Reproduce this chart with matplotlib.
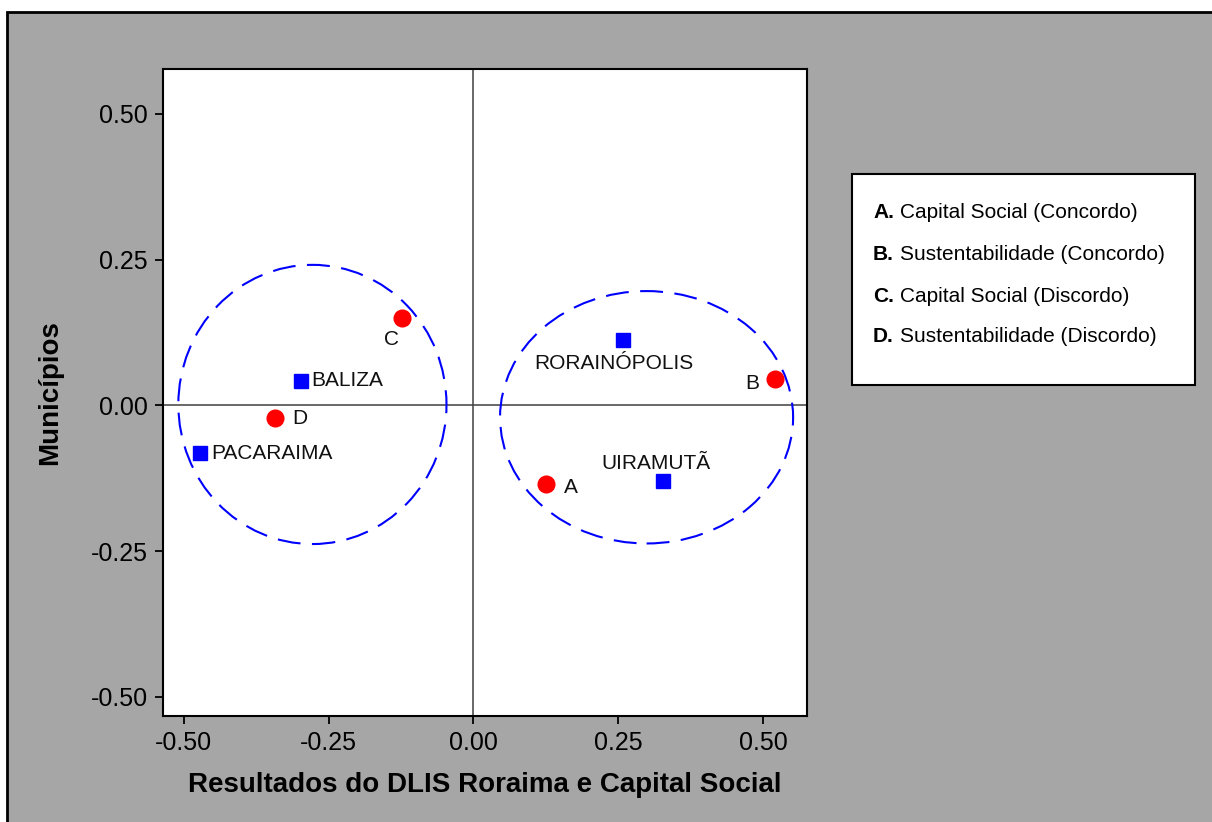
import matplotlib.pyplot as plt
from matplotlib.patches import Ellipse, Rectangle

plt.rcParams['font.family'] = ['Liberation Sans', 'DejaVu Sans']

# municipalities (blue squares)
mun_names = ['BALIZA', 'PACARAIMA', 'RORAINÓPOLIS', 'UIRAMUTÃ']
mun_x = [-0.297, -0.472, 0.259, 0.328]
mun_y = [0.042, -0.082, 0.112, -0.130]

# categories (red circles)
cat_names = ['A', 'B', 'C', 'D']
cat_x = [0.125, 0.520, -0.124, -0.343]
cat_y = [-0.1355, 0.045, 0.149, -0.022]

legend_lines = [('A.', 'Capital Social (Concordo)'),
                ('B.', 'Sustentabilidade (Concordo)'),
                ('C.', 'Capital Social (Discordo)'),
                ('D.', 'Sustentabilidade (Discordo)')]

# cluster ellipses: center x, center y, width, height
ell_cx = [-0.278, 0.299]
ell_cy = [0.0015, -0.0205]
ell_w = [0.463, 0.506]
ell_h = [0.479, 0.433]

fig = plt.figure(figsize=(12.12, 8.22), dpi=100)
fig.patch.set_facecolor('white')
bg = Rectangle((7 / 1212, -0.05), 1.1, 1 - 12 / 822 + 0.05, transform=fig.transFigure,
               facecolor='#a6a6a6', edgecolor='black', linewidth=2, zorder=-10)
fig.patches.append(bg)

ax = fig.add_axes([163 / 1212, 1 - 716 / 822, 644 / 1212, 647 / 822])
ax.set_facecolor('white')
ax.set_xlim(-0.536, 0.576)
ax.set_ylim(-0.533, 0.577)

ax.axhline(0, color='#404040', lw=1.1, zorder=1)
ax.axvline(0, color='#404040', lw=1.1, zorder=1)

for cx, cy, w, h in zip(ell_cx, ell_cy, ell_w, ell_h):
    e = Ellipse((cx, cy), w, h, fill=False, edgecolor='#0000ff', lw=1.5,
                linestyle=(0, (11, 5.5)), zorder=2)
    ax.add_patch(e)

ax.plot(mun_x, mun_y, 's', color='#0000ff', ms=10, zorder=3, linestyle='none')
ax.plot(cat_x, cat_y, 'o', color='#ff0000', ms=12, zorder=3, linestyle='none')

# label offsets in points (dx, dy, ha, va)
mun_off = {'BALIZA': (7, 0, 'left', 'center'),
           'PACARAIMA': (8, 0, 'left', 'center'),
           'RORAINÓPOLIS': (-7, -17, 'center', 'center'),
           'UIRAMUTÃ': (-5, 13, 'center', 'center')}
cat_off = {'A': (18, -2, 'center', 'center'),
           'B': (-16, -3, 'center', 'center'),
           'C': (-7, -15, 'center', 'center'),
           'D': (18, 0, 'center', 'center')}

for n, x, y in zip(mun_names, mun_x, mun_y):
    dx, dy, ha, va = mun_off[n]
    ax.annotate(n, (x, y), xytext=(dx, dy), textcoords='offset points',
                ha=ha, va=va, fontsize=15, color='#111111')
for n, x, y in zip(cat_names, cat_x, cat_y):
    dx, dy, ha, va = cat_off[n]
    ax.annotate(n, (x, y), xytext=(dx, dy), textcoords='offset points',
                ha=ha, va=va, fontsize=15, color='#111111')

ticks = [-0.50, -0.25, 0.00, 0.25, 0.50]
ax.set_xticks(ticks)
ax.set_yticks(ticks)
ax.set_xticklabels(['%.2f' % t for t in ticks])
ax.set_yticklabels(['%.2f' % t for t in ticks])
ax.tick_params(direction='out', length=6, width=1.3, labelsize=18, colors='black', pad=5)
for s in ax.spines.values():
    s.set_linewidth(1.5)

ax.set_xlabel('Resultados do DLIS Roraima e Capital Social', fontsize=20,
              fontweight='bold', labelpad=12)
ax.set_ylabel('Municípios', fontsize=20, fontweight='bold', labelpad=20)

# legend box
box = Rectangle((852 / 1212, 1 - 385 / 822), 343 / 1212, 211 / 822,
                transform=fig.transFigure, facecolor='white', edgecolor='black',
                linewidth=1.5, zorder=5)
fig.patches.append(box)
ys = [213, 255, 296, 336]
for (b, t), yy in zip(legend_lines, ys):
    fig.text(873 / 1212, 1 - yy / 822, b, fontsize=15, fontweight='bold',
             ha='left', va='center', zorder=6)
    fig.text(900 / 1212, 1 - yy / 822, t, fontsize=15, ha='left', va='center', zorder=6)

fig.savefig('out.png', dpi=100)
